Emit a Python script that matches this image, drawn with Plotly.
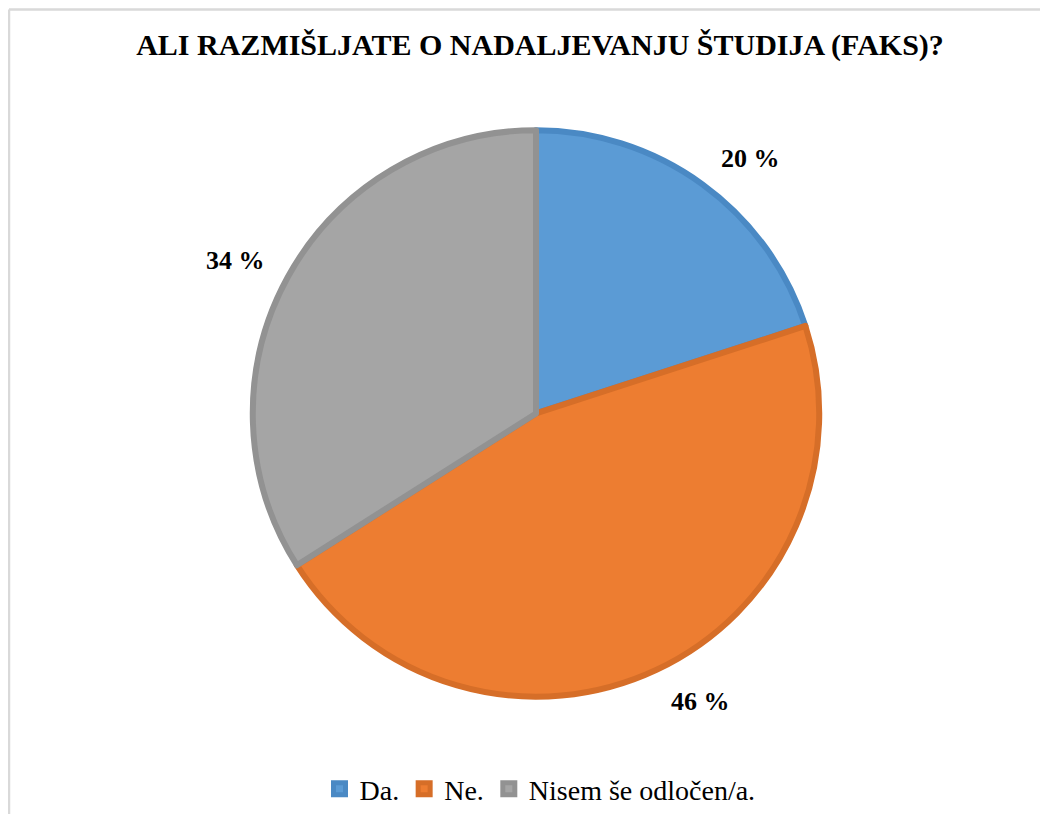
import plotly.graph_objects as go

# podatki
labels = ["Da.", "Ne.", "Nisem še odločen/a."]
values = [20, 46, 34]
pct_text = ["20 %", "46 %", "34 %"]

fill_colors = ["#5B9BD5", "#ED7D31", "#A5A5A5"]
edge_colors = ["#4A89C4", "#D66E28", "#929292"]

# stran ima 8px roba, zato je slika malo manjša od okna
W, H = 1040, 806

fig = go.Figure()

fig.add_trace(go.Pie(
    labels=labels,
    values=values,
    sort=False,
    direction="clockwise",
    rotation=0,
    textinfo="none",
    hoverinfo="label+percent",
    marker=dict(colors=fill_colors, line=dict(color=edge_colors, width=6)),
    domain=dict(x=[243 / W, 813 / W], y=[1 - 693 / H, 1 - 123 / H]),
))

# oznake odstotkov zunaj krožnika
label_pos = [(742, 151), (692, 698), (227, 254)]
for txt, (px, py) in zip(pct_text, label_pos):
    fig.add_annotation(
        x=px / W, y=1 - py / H, xref="paper", yref="paper",
        xanchor="center", yanchor="middle",
        text="<b>" + txt + "</b>", showarrow=False,
        font=dict(family="Liberation Serif", size=26, color="#000000"),
    )

# okvir grafa (samo levi in zgornji rob sta vidna)
frame = dict(color="#D9D9D9", width=2.5)
fig.add_shape(type="line", xref="paper", yref="paper",
              x0=1 / W, x1=1 / W, y0=-0.1, y1=1 - 1.5 / H, line=frame)
fig.add_shape(type="line", xref="paper", yref="paper",
              x0=1 / W, x1=1.1, y0=1 - 1.5 / H, y1=1 - 1.5 / H, line=frame)

fig.update_layout(
    width=W, height=H,
    margin=dict(l=0, r=0, t=0, b=0),
    paper_bgcolor="white",
    plot_bgcolor="white",
    font=dict(family="Liberation Serif", color="#000000"),
    title=dict(
        text="<b>ALI RAZMIŠLJATE O NADALJEVANJU ŠTUDIJA (FAKS)?</b>",
        x=532 / W, xanchor="center",
        y=1 - 36 / H, yanchor="middle",
        font=dict(family="Liberation Serif", size=30, color="#000000"),
    ),
    showlegend=True,
    legend=dict(
        orientation="h",
        x=532 / W, xanchor="center",
        y=1 - 786 / H, yanchor="middle",
        font=dict(family="Liberation Serif", size=28, color="#000000"),
        itemwidth=30,
        traceorder="normal",
    ),
)

fig.write_html("out.html")
